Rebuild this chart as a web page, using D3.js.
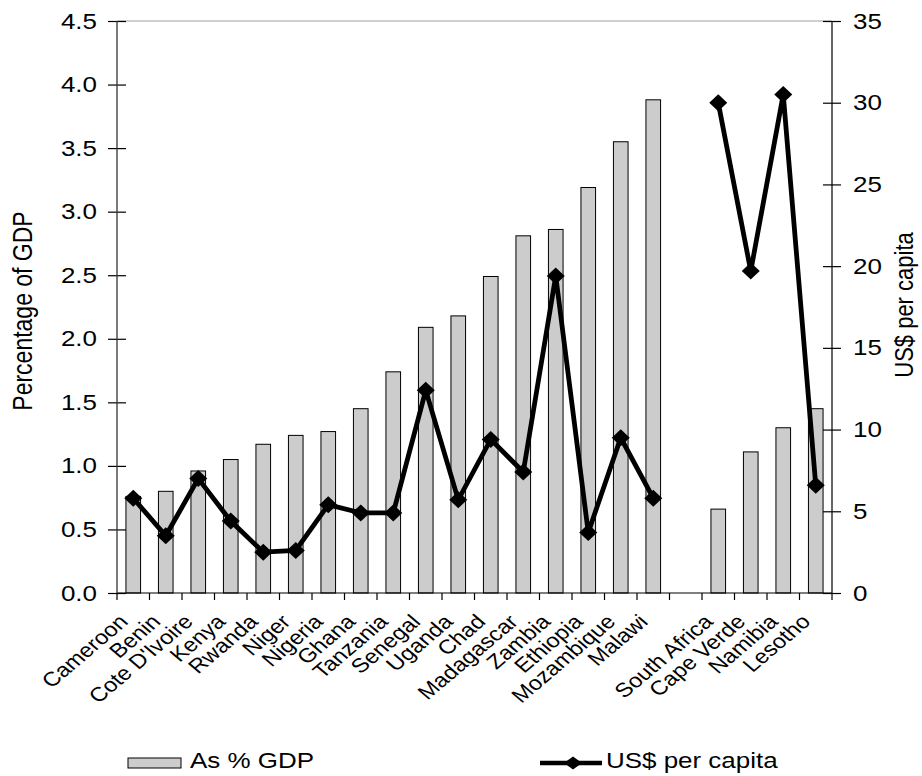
<!DOCTYPE html>
<html><head><meta charset="utf-8">
<script src="https://cdn.jsdelivr.net/npm/d3@7"></script>
<style>
body{margin:0;background:#fff}
svg{display:block}
text{font-family:"Liberation Sans",Arial,Helvetica,sans-serif;fill:#000}
</style>
</head><body>
<svg id="c" width="922" height="776"></svg>
<script>
// ---- data ----
const categories = ["Cameroon","Benin","Cote D'Ivoire","Kenya","Rwanda","Niger","Nigeria","Ghana","Tanzania","Senegal","Uganda","Chad","Madagascar","Zambia","Ethiopia","Mozambique","Malawi","","South Africa","Cape Verde","Namibia","Lesotho"];
const pctGDP = [0.76,0.80,0.96,1.05,1.17,1.24,1.27,1.45,1.74,2.09,2.18,2.49,2.81,2.86,3.19,3.55,3.88,null,0.66,1.11,1.30,1.45];
const usdPerCapita = [5.8,3.5,7.0,4.4,2.5,2.6,5.4,4.9,4.9,12.4,5.7,9.4,7.4,19.4,3.7,9.5,5.8,null,30.0,19.7,30.5,6.6];
const leftTicks = [0,0.5,1.0,1.5,2.0,2.5,3.0,3.5,4.0,4.5];
const rightTicks = [0,5,10,15,20,25,30,35];
const seriesNames = ["As % GDP","US$ per capita"];
const axisTitles = ["Percentage of GDP","US$ per capita"];

// ---- layout ----
const L = 117, R = 832, T = 21, B = 593;
const SX = 1.18;           // horizontal stretch of the original picture's text
const FS = 22;
const svg = d3.select("#c");

const x = d3.scaleBand().domain(categories).range([L, R]).padding(0);
const yL = d3.scaleLinear().domain([0, 4.5]).range([B, T]);
const yR = d3.scaleLinear().domain([0, 35]).range([B, T]);
const bw = x.bandwidth();
const barW = bw * 0.45;

// top border
svg.append("line").attr("x1", L).attr("x2", R).attr("y1", T).attr("y2", T)
  .attr("stroke", "#a0a0a0").attr("stroke-width", 1);

// bars
const barData = categories.map((c, i) => ({c, v: pctGDP[i]})).filter(d => d.v != null);
svg.append("g").selectAll("rect").data(barData).join("rect")
  .attr("x", d => x(d.c) + (bw - barW) / 2)
  .attr("y", d => yL(d.v))
  .attr("width", barW)
  .attr("height", d => B - yL(d.v))
  .attr("fill", "#cccccc").attr("stroke", "#000").attr("stroke-width", 1);

// x axis line and boundary ticks
svg.append("line").attr("x1", L).attr("x2", R).attr("y1", B).attr("y2", B)
  .attr("stroke", "#000").attr("stroke-width", 1.2);
const bounds = categories.map(c => x(c)).concat([R]);
svg.append("g").selectAll("line").data(bounds).join("line")
  .attr("x1", d => d).attr("x2", d => d).attr("y1", B).attr("y2", B + 7)
  .attr("stroke", "#000").attr("stroke-width", 1.2);

// x labels
const gx = svg.append("g").attr("transform", `translate(0,${B})`)
  .call(d3.axisBottom(x).tickSize(0).tickPadding(0));
gx.select(".domain").remove();
gx.attr("font-family", null).attr("font-size", null);
gx.selectAll(".tick text")
  .attr("y", null).attr("dy", null)
  .style("font-size", "20px")
  .attr("text-anchor", "end")
  .attr("transform", `translate(-4,30) scale(${SX},1) rotate(-45)`);

// left axis
const gL = svg.append("g").attr("transform", `translate(${L},0)`)
  .call(d3.axisLeft(yL).tickValues(leftTicks).tickFormat(d3.format(".1f")).tickSize(9).tickPadding(0));
gL.select(".domain").remove();
gL.attr("font-family", null).attr("font-size", null);
gL.append("line").attr("y1", T).attr("y2", B).attr("stroke", "#333").attr("stroke-width", 1.3);
gL.selectAll(".tick line").attr("x1", -9).attr("x2", 9).attr("stroke", "#000").attr("stroke-width", 1.2);
gL.selectAll(".tick text").attr("x", -20 / SX).style("font-size", FS + "px")
  .attr("transform", `scale(${SX},1)`);

// right axis
const gR = svg.append("g").attr("transform", `translate(${R},0)`)
  .call(d3.axisRight(yR).tickValues(rightTicks).tickFormat(d3.format("d")).tickSize(9).tickPadding(0));
gR.select(".domain").remove();
gR.attr("font-family", null).attr("font-size", null);
gR.append("line").attr("y1", T).attr("y2", B).attr("stroke", "#000").attr("stroke-width", 1.2);
gR.selectAll(".tick line").attr("x1", -9).attr("x2", 9).attr("stroke", "#000").attr("stroke-width", 1.2);
gR.selectAll(".tick text").attr("x", 21 / SX).style("font-size", FS + "px")
  .attr("transform", `scale(${SX},1)`);

// line series
const lineData = categories.map((c, i) => ({c, v: usdPerCapita[i]}));
const cx = d => x(d.c) + bw / 2;
const line = d3.line().defined(d => d.v != null).x(cx).y(d => yR(d.v));
svg.append("path").datum(lineData).attr("d", line)
  .attr("fill", "none").attr("stroke", "#000").attr("stroke-width", 4.8).attr("stroke-linejoin", "miter");
const diamond = "M0,-8.5L9,0L0,8.5L-9,0Z";
svg.append("g").selectAll("path").data(lineData.filter(d => d.v != null)).join("path")
  .attr("d", diamond).attr("transform", d => `translate(${cx(d)},${yR(d.v)})`).attr("fill", "#000");

// axis titles
svg.append("text").text(axisTitles[0]).attr("text-anchor", "middle").style("font-size", "23px")
  .attr("transform", `translate(32,311) scale(${SX},1) rotate(-90)`);
svg.append("text").text(axisTitles[1]).attr("text-anchor", "middle").style("font-size", "22px")
  .attr("transform", `translate(913,305) scale(${SX},1) rotate(-90)`);

// legend
const lg = svg.append("g");
lg.append("rect").attr("x", 128).attr("y", 758).attr("width", 53).attr("height", 10)
  .attr("fill", "#cccccc").attr("stroke", "#000").attr("stroke-width", 1);
lg.append("text").text(seriesNames[0]).attr("x", 190 / SX).attr("y", 768)
  .attr("transform", `scale(${SX},1)`).style("font-size", FS + "px");
lg.append("line").attr("x1", 540).attr("x2", 602).attr("y1", 763).attr("y2", 763)
  .attr("stroke", "#000").attr("stroke-width", 4.5);
lg.append("path").attr("d", "M0,-6.5L9,0L0,6.5L-9,0Z").attr("transform", "translate(573,763)").attr("fill", "#000");
lg.append("text").text(seriesNames[1]).attr("x", 606 / SX).attr("y", 768)
  .attr("transform", `scale(${SX},1)`).style("font-size", FS + "px");
</script>
</body></html>
